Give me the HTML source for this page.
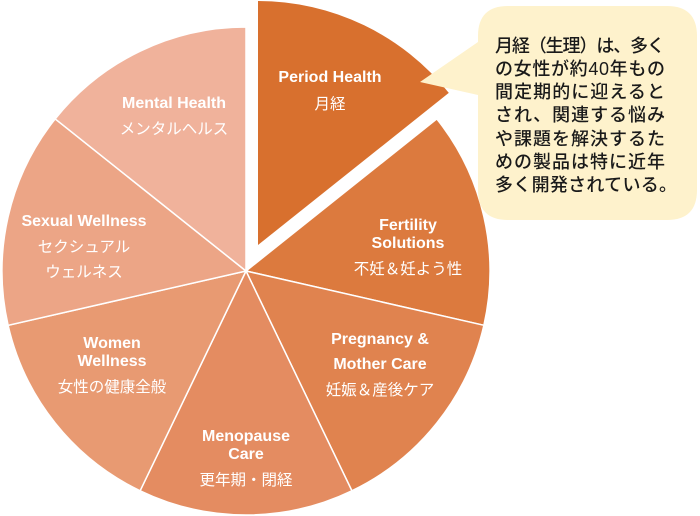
<!DOCTYPE html>
<html><head><meta charset="utf-8"><style>
html,body{margin:0;padding:0;background:#fff;width:700px;height:516px;overflow:hidden}
svg{display:block}
.l{font-family:"Liberation Sans Narrow","Liberation Sans","Noto Sans CJK JP",sans-serif;font-weight:bold;font-size:16px;fill:#fff;text-anchor:middle}
.j{font-family:"Liberation Sans","Noto Sans CJK JP",sans-serif;font-size:15.5px;fill:#fff;text-anchor:middle}
.c{font-family:"Liberation Sans","Noto Sans CJK JP",sans-serif;font-size:18px;fill:#1a1a1a;font-weight:500}
</style></head><body>
<svg width="700" height="516" viewBox="0 0 700 516" xmlns="http://www.w3.org/2000/svg">
<g stroke="#fff" stroke-width="1.5">
<path d="M246,271 L436.8,118.9 A244,244 0 0 1 483.9,325.3 Z" fill="#dc7a3e"/>
<path d="M246,271 L483.9,325.3 A244,244 0 0 1 351.9,490.8 Z" fill="#e0834f"/>
<path d="M246,271 L351.9,490.8 A244,244 0 0 1 140.1,490.8 Z" fill="#e48c61"/>
<path d="M246,271 L140.1,490.8 A244,244 0 0 1 8.1,325.3 Z" fill="#e89a72"/>
<path d="M246,271 L8.1,325.3 A244,244 0 0 1 55.2,118.9 Z" fill="#eca586"/>
<path d="M246,271 L55.2,118.9 A244,244 0 0 1 246,27 Z" fill="#f0b29b"/>
</g>
<path d="M258,245 L258,1 A244,244 0 0 1 448.8,92.9 Z" fill="#d8702e"/>
<path d="M508,6 L667,6 Q697,6 697,36 L697,190 Q697,220 667,220 L508,220 Q478,220 478,190 L478,95 L420,82 L478,42 L478,36 Q478,6 508,6 Z" fill="#fef2cc"/>
<text class="l" x="330" y="82">Period Health</text>
<text class="j" x="330" y="109">月経</text>
<text class="l" x="174" y="108">Mental Health</text>
<text class="j" x="174" y="134">メンタルヘルス</text>
<text class="l" x="84" y="226">Sexual Wellness</text>
<text class="j" x="84" y="252">セクシュアル</text>
<text class="j" x="84" y="277">ウェルネス</text>
<text class="l" x="408" y="230">Fertility</text>
<text class="l" x="408" y="248">Solutions</text>
<text class="j" x="408" y="274">不妊＆妊よう性</text>
<text class="l" x="380" y="344">Pregnancy &amp;</text>
<text class="l" x="380" y="369">Mother Care</text>
<text class="j" x="380" y="395">妊娠＆産後ケア</text>
<text class="l" x="112" y="348">Women</text>
<text class="l" x="112" y="366">Wellness</text>
<text class="j" x="112" y="392">女性の健康全般</text>
<text class="l" x="246" y="441">Menopause</text>
<text class="l" x="246" y="459">Care</text>
<text class="j" x="246" y="485">更年期・閉経</text>
<g class="c">
<text x="495" y="52" textLength="170">月経（生理）は、多く</text>
<text x="495" y="75" textLength="170">の女性が約40年もの</text>
<text x="495" y="98" textLength="170">間定期的に迎えると</text>
<text x="495" y="121" textLength="170">され、関連する悩み</text>
<text x="495" y="145" textLength="170">や課題を解決するた</text>
<text x="495" y="168" textLength="170">めの製品は特に近年</text>
<text x="495" y="191" textLength="182">多く開発されている。</text>
</g>
</svg>
</body></html>
